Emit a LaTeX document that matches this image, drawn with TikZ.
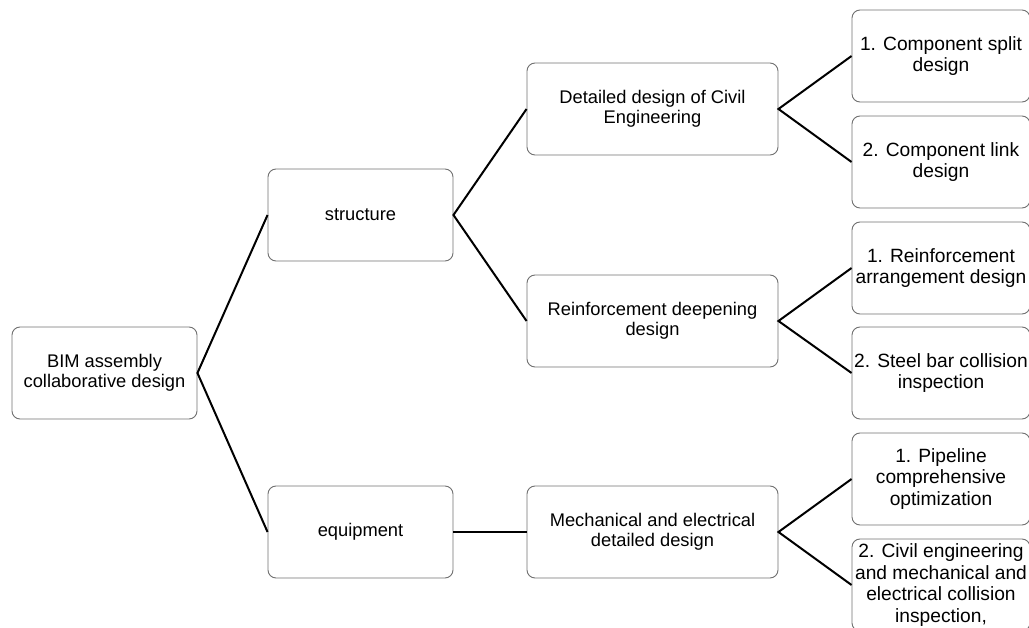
\documentclass[tikz,border=0pt]{standalone}
\usepackage{fontspec}
\setmainfont{Liberation Sans}
\definecolor{boxline}{RGB}{112,112,112}
\begin{document}
\begin{tikzpicture}[x=1pt,y=-1pt,
  box/.style={draw=boxline, line width=0.9pt, rounded corners=8pt, fill=white,
    inner sep=0pt, align=center, minimum height=92pt,
    font=\fontsize{18.3}{20.5}\selectfont},
  leftbox/.style={box, minimum width=185pt},
  midbox/.style={box, minimum width=251pt},
  rightbox/.style={box, minimum width=178pt, font=\fontsize{19.2}{21.5}\selectfont},
  link/.style={draw=black, line width=2pt}]
\useasboundingbox (0,0) rectangle (1029,628);
\node[leftbox] (root) at (104.5,373) {BIM assembly\\collaborative design};
\node[leftbox] (struct) at (360.5,215) {structure};
\node[leftbox] (equip) at (360.5,532) {equipment};
\node[midbox] (civil) at (652.5,109) {Detailed design of Civil\\Engineering};
\node[midbox] (reinf) at (652.5,321) {Reinforcement deepening\\design};
\node[midbox] (mech) at (652.5,532) {Mechanical and electrical\\detailed design};
\node[rightbox] (c1) at (941,56) {1. Component split\\design};
\node[rightbox] (c2) at (941,162) {2. Component link\\design};
\node[rightbox] (r1) at (941,268) {1. Reinforcement\\arrangement design};
\node[rightbox] (r2) at (941,373) {2. Steel bar collision\\inspection};
\node[rightbox] (m1) at (941,479) {1. Pipeline\\comprehensive\\optimization};
\node[rightbox] (m2) at (941,585) {2. Civil engineering\\and mechanical and\\electrical collision\\inspection,};
\draw[link] (struct.west) -- (root.east) -- (equip.west);
\draw[link] (civil.west) -- (struct.east) -- (reinf.west);
\draw[link] (equip.east) -- (mech.west);
\draw[link] (c1.west) -- (civil.east) -- (c2.west);
\draw[link] (r1.west) -- (reinf.east) -- (r2.west);
\draw[link] (m1.west) -- (mech.east) -- (m2.west);
\end{tikzpicture}
\end{document}
